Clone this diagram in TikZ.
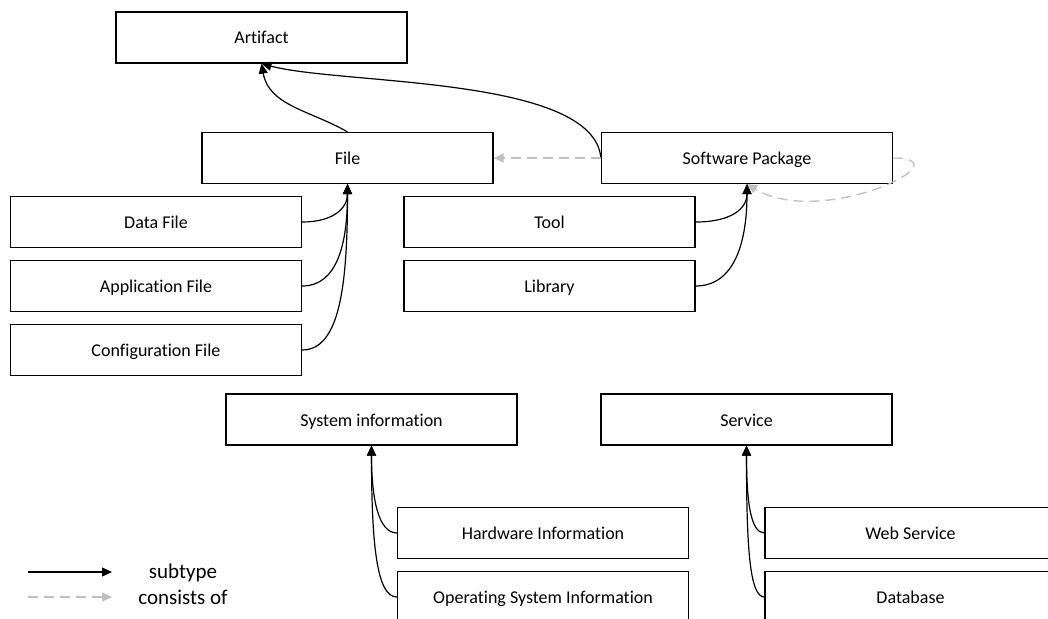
\documentclass[tikz,border=0pt]{standalone}
\usepackage{fontspec}
\setmainfont{Carlito}[Ligatures=NoCommon]
\usetikzlibrary{shapes,arrows,arrows.meta,positioning}

\begin{document}
\begin{tikzpicture}[x=1pt, y=1pt, node distance=64pt, auto]
    % Define styles
    \tikzstyle{box} = [rectangle, minimum width=291pt, minimum height=51pt, inner sep=0pt, text height=14pt, text depth=1pt, text centered, draw=black, line width=1.2pt, font=\fontsize{18pt}{22pt}\selectfont]
    \tikzstyle{subtype} = [-{Triangle[length=10pt,width=9pt]}, line width=1.2pt, draw=black]
    \tikzstyle{consists} = [-{Triangle[length=10pt,width=9pt]}, line width=1.3pt, draw=gray!50, dash pattern=on 10pt off 6pt]
    \tikzstyle{legendtext} = [font=\fontsize{21pt}{25pt}\selectfont]

    % Canvas
    \path[use as bounding box, clip] (0,0) rectangle (1048,-618);

    % Nodes
    \node[box] (artifact) at (261.5,-37.5) {Artifact};
    \node[box] (file) at (347.5,-158) {File};
    \node[box] (software) at (747,-158) {Software Package};
    \node[box] (data_file) at (156,-222) {Data File};
    \node[box, below of=data_file] (app_file) {Application File};
    \node[box, below of=app_file] (config_file) {Configuration File};
    \node[box] (tool) at (549.5,-222) {Tool};
    \node[box, below of=tool] (library) {Library};
    \node[box] (sys_info) at (371.5,-419.5) {System information};
    \node[box] (service) at (746.5,-419.5) {Service};
    \node[box] (hw_info) at (543,-533) {Hardware Information};
    \node[box, below of=hw_info] (os_info) {Operating System Information};
    \node[box] (web_service) at (910.5,-533) {Web Service};
    \node[box, below of=web_service] (database) {Database};

    % Legend
    \coordinate (sub_start) at (28,-572);
    \coordinate (sub_end) at (112,-572);
    \coordinate (con_start) at (28,-597);
    \coordinate (con_end) at (112,-597);
    \node[legendtext] (sub_label) at (183,-573) {subtype};
    \node[legendtext] (con_label) at (183,-597) {consists of};
    \draw[subtype] (sub_start) -- (sub_end);
    \draw[consists] (con_start) -- (con_end);

    % Connections
    \draw[subtype] (file.north) to[out=150, in=-80] (artifact.south);
    \draw[subtype] (software.west) to[out=95, in=-15, looseness=0.6] (artifact.south);
    \draw[consists] (software.west) -- (file.east);
    \draw[consists] (software.east) .. controls +(75,0) and +(75,-45) .. (software.south);
    \draw[subtype] (data_file.east) to[out=0, in=-90, out distance=30pt, in distance=25pt] (file.south);
    \draw[subtype] (app_file.east) to[out=0, in=-90, out distance=35pt, in distance=60pt] (file.south);
    \draw[subtype] (config_file.east) to[out=0, in=-90, out distance=38pt, in distance=100pt] (file.south);
    \draw[subtype] (tool.east) to[out=0, in=-90, out distance=35pt, in distance=25pt] (software.south);
    \draw[subtype] (library.east) to[out=0, in=-90, out distance=38pt, in distance=60pt] (software.south);
    \draw[subtype] (hw_info.west) to[out=180, in=-90, out distance=18pt, in distance=55pt] (sys_info.south);
    \draw[subtype] (os_info.west) to[out=180, in=-90, out distance=20pt, in distance=100pt] (sys_info.south);
    \draw[subtype] (web_service.west) to[out=180, in=-90, out distance=14pt, in distance=55pt] (service.south);
    \draw[subtype] (database.west) to[out=180, in=-90, out distance=15pt, in distance=100pt] (service.south);
\end{tikzpicture}
\end{document}
